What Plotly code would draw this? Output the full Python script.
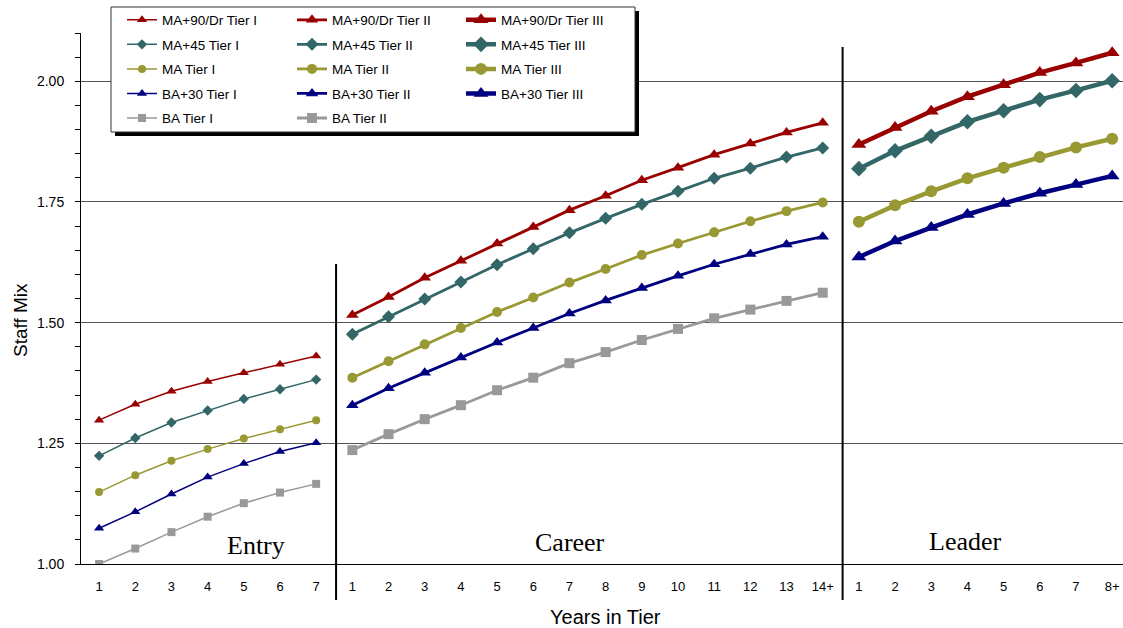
import plotly.graph_objects as go

# ---------------- data ----------------
entry_years = ["1", "2", "3", "4", "5", "6", "7"]
career_years = ["1", "2", "3", "4", "5", "6", "7", "8", "9", "10", "11", "12", "13", "14+"]
leader_years = ["1", "2", "3", "4", "5", "6", "7", "8+"]

ma90_t1 = [1.298, 1.331, 1.358, 1.378, 1.396, 1.414, 1.431]
ma45_t1 = [1.224, 1.261, 1.293, 1.318, 1.342, 1.362, 1.382]
ma_t1 = [1.149, 1.184, 1.214, 1.238, 1.260, 1.279, 1.298]
ba30_t1 = [1.074, 1.108, 1.145, 1.180, 1.208, 1.233, 1.251]
ba_t1 = [1.000, 1.032, 1.066, 1.098, 1.126, 1.148, 1.166]

ma90_t2 = [1.516, 1.553, 1.593, 1.628, 1.664, 1.698, 1.733, 1.763, 1.795, 1.821, 1.848, 1.871, 1.894, 1.914]
ma45_t2 = [1.476, 1.512, 1.549, 1.584, 1.620, 1.653, 1.686, 1.716, 1.745, 1.772, 1.799, 1.820, 1.843, 1.862]
ma_t2 = [1.386, 1.420, 1.455, 1.489, 1.522, 1.552, 1.583, 1.611, 1.640, 1.664, 1.687, 1.710, 1.731, 1.749]
ba30_t2 = [1.329, 1.364, 1.396, 1.428, 1.459, 1.489, 1.519, 1.546, 1.572, 1.597, 1.621, 1.642, 1.662, 1.678]
ba_t2 = [1.236, 1.269, 1.300, 1.329, 1.360, 1.386, 1.416, 1.439, 1.464, 1.487, 1.509, 1.527, 1.545, 1.562]

ma90_t3 = [1.869, 1.904, 1.938, 1.968, 1.993, 2.018, 2.038, 2.059]
ma45_t3 = [1.819, 1.856, 1.886, 1.916, 1.939, 1.962, 1.981, 2.001]
ma_t3 = [1.709, 1.743, 1.772, 1.799, 1.821, 1.843, 1.863, 1.881]
ba30_t3 = [1.636, 1.669, 1.697, 1.724, 1.747, 1.768, 1.786, 1.804]

section_labels = ["Entry", "Career", "Leader"]
x_title = "Years in Tier"
y_title = "Staff Mix"

# ---------------- layout helpers ----------------
W, H = 1123, 628
ML, MR, MT, MB = 81, 0, 33, 64
PW, PH = W - ML - MR, H - MT - MB


def px(xp):
    return (xp - ML) / PW


def py(yp):
    return (H - MB - yp) / PH


tick_text = entry_years + career_years + leader_years
n_entry, n_career, n_leader = len(entry_years), len(career_years), len(leader_years)
x_entry = list(range(n_entry))
x_career = list(range(n_entry, n_entry + n_career))
x_leader = list(range(n_entry + n_career, n_entry + n_career + n_leader))

FONT = "Liberation Sans, Arial, sans-serif"
SERIF = "Liberation Serif, Times New Roman, serif"

colors = {
    "ma90": "#990000",
    "ma45": "#336666",
    "ma": "#999933",
    "ba30": "#000080",
    "ba": "#999999",
}
symbols = {
    "ma90": "triangle-up",
    "ma45": "diamond",
    "ma": "circle",
    "ba30": "triangle-up",
    "ba": "square",
}
names = {
    "ma90": "MA+90/Dr",
    "ma45": "MA+45",
    "ma": "MA",
    "ba30": "BA+30",
    "ba": "BA",
}
tier_style = {
    "I": dict(width=1.5, size=8, legend="legend", xs=x_entry),
    "II": dict(width=2.8, size=10, legend="legend2", xs=x_career),
    "III": dict(width=4.5, size=12, legend="legend3", xs=x_leader),
}

series = [
    ("ma90", "I", ma90_t1), ("ma45", "I", ma45_t1), ("ma", "I", ma_t1), ("ba30", "I", ba30_t1), ("ba", "I", ba_t1),
    ("ma90", "II", ma90_t2), ("ma45", "II", ma45_t2), ("ma", "II", ma_t2), ("ba30", "II", ba30_t2), ("ba", "II", ba_t2),
    ("ma90", "III", ma90_t3), ("ma45", "III", ma45_t3), ("ma", "III", ma_t3), ("ba30", "III", ba30_t3),
]

fig = go.Figure()
for key, tier, vals in series:
    st = tier_style[tier]
    msize = st["size"]
    if symbols[key] == "triangle-up":
        msize = st["size"] + 1
    fig.add_trace(go.Scatter(
        x=st["xs"], y=vals,
        mode="lines+markers",
        name=f"{names[key]} Tier {tier}",
        legend=st["legend"],
        legendgroup=f"{key}{tier}",
        line=dict(color=colors[key], width=st["width"]),
        marker=dict(color=colors[key], symbol=symbols[key], size=msize),
        hoverinfo="x+y+name",
    ))

legend_common = dict(
    bgcolor="rgba(0,0,0,0)", borderwidth=0,
    font=dict(family=FONT, size=13.5, color="#000000"),
    orientation="v", xanchor="left", yanchor="top",
    traceorder="grouped", tracegroupgap=4,
    itemwidth=30,
)

fig.update_layout(
    width=W, height=H,
    margin=dict(l=ML, r=MR, t=MT, b=MB, pad=0),
    paper_bgcolor="white", plot_bgcolor="white",
    font=dict(family=FONT, color="#000000"),
    showlegend=True,
    legend=dict(x=px(122), y=py(4.5), **legend_common),
    legend2=dict(x=px(292), y=py(4.5), **legend_common),
    legend3=dict(x=px(461), y=py(4.5), **legend_common),
    xaxis=dict(
        range=[-0.5, 28.3],
        tickmode="array", tickvals=list(range(len(tick_text))), ticktext=tick_text,
        showgrid=False, zeroline=False,
        showline=True, linecolor="#000000", linewidth=1,
        ticks="", ticklabelstandoff=10,
        tickfont=dict(family=FONT, size=13, color="#000000"),
    ),
    yaxis=dict(
        range=[1.0, 2.1],
        tickmode="array", tickvals=[1.0, 1.25, 1.5, 1.75, 2.0], tickformat=".2f",
        showgrid=True, gridcolor="#555555", gridwidth=1,
        zeroline=False,
        showline=True, linecolor="#000000", linewidth=1,
        ticks="outside", ticklen=5, tickcolor="#000000",
        minor=dict(dtick=0.05, tick0=1.0, ticks="outside", ticklen=5, tickcolor="#000000", showgrid=False),
        ticklabelstandoff=8,
        tickfont=dict(family=FONT, size=14, color="#000000"),
    ),
)

# axis titles
fig.add_annotation(text=x_title, xref="paper", yref="paper", x=px(605), y=py(617),
                   xanchor="center", yanchor="middle", showarrow=False,
                   font=dict(family=FONT, size=20, color="#000000"))
fig.add_annotation(text=y_title, xref="paper", yref="paper", x=px(20), y=py(320),
                   xanchor="center", yanchor="middle", showarrow=False, textangle=-90,
                   font=dict(family=FONT, size=19, color="#000000"))

# section separators
sep1 = n_entry - 0.45
sep2 = n_entry + n_career - 0.45
fig.add_shape(type="line", xref="x", yref="paper", x0=sep1, x1=sep1, y0=py(600), y1=py(264),
              line=dict(color="#000000", width=2))
fig.add_shape(type="line", xref="x", yref="paper", x0=sep2, x1=sep2, y0=py(600), y1=py(47),
              line=dict(color="#000000", width=2))

# legend box with shadow
fig.add_shape(type="rect", xref="paper", yref="paper", x0=px(115), x1=px(639), y0=py(136), y1=py(11),
              fillcolor="#000000", line=dict(width=0), layer="above")
fig.add_shape(type="rect", xref="paper", yref="paper", x0=px(111), x1=px(635), y0=py(132), y1=py(7),
              fillcolor="#ffffff", line=dict(color="#333333", width=1), layer="above")

# section labels
label_pos = [(256, 545), (570, 542), (965, 541)]
for text, (lx, ly) in zip(section_labels, label_pos):
    fig.add_annotation(text=text, xref="paper", yref="paper", x=px(lx), y=py(ly),
                       xanchor="center", yanchor="middle", showarrow=False,
                       font=dict(family=SERIF, size=26, color="#000000"), bgcolor="white")

fig.write_html("out.html")
